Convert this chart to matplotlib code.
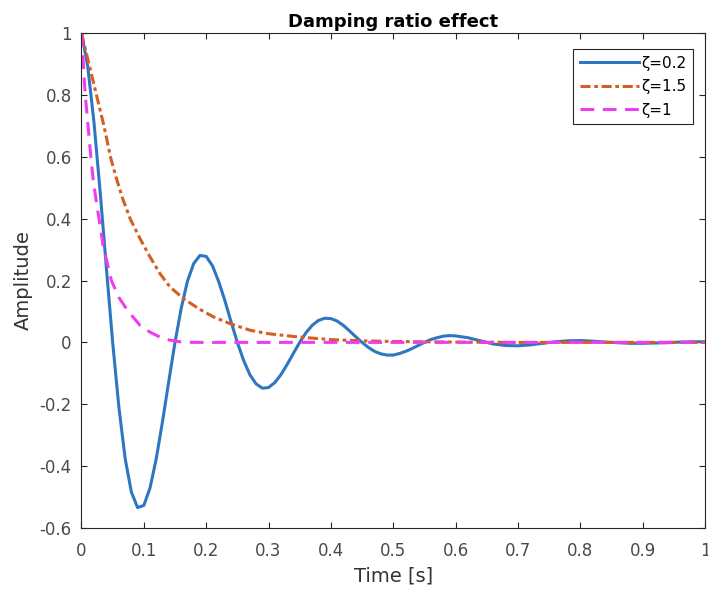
import numpy as np
import matplotlib
matplotlib.use('Agg')
import matplotlib.pyplot as plt

# values
t_blue = [0.00, 0.01, 0.02, 0.03, 0.04, 0.05, 0.06, 0.07, 0.08, 0.09,
          0.10, 0.11, 0.12, 0.13, 0.14, 0.15, 0.16, 0.17, 0.18, 0.19,
          0.20, 0.21, 0.22, 0.23, 0.24, 0.25, 0.26, 0.27, 0.28, 0.29,
          0.30, 0.31, 0.32, 0.33, 0.34, 0.35, 0.36, 0.37, 0.38, 0.39,
          0.40, 0.41, 0.42, 0.43, 0.44, 0.45, 0.46, 0.47, 0.48, 0.49,
          0.50, 0.51, 0.52, 0.53, 0.54, 0.55, 0.56, 0.57, 0.58, 0.59,
          0.60, 0.62, 0.64, 0.66, 0.68, 0.70, 0.72, 0.74, 0.76, 0.78,
          0.80, 0.82, 0.84, 0.86, 0.88, 0.90, 0.92, 0.94, 0.96, 0.98, 1.00]
y_blue = [1.000, 0.892, 0.712, 0.485, 0.239, 0.000, -0.210, -0.375, -0.484, -0.534,
          -0.527, -0.470, -0.375, -0.255, -0.126, 0.000, 0.111, 0.198, 0.255, 0.281,
          0.278, 0.248, 0.197, 0.135, 0.066, 0.000, -0.058, -0.104, -0.134, -0.148,
          -0.146, -0.130, -0.104, -0.071, -0.035, 0.000, 0.031, 0.055, 0.071, 0.078,
          0.077, 0.069, 0.055, 0.037, 0.018, 0.000, -0.016, -0.029, -0.037, -0.041,
          -0.041, -0.036, -0.029, -0.020, -0.010, 0.000, 0.009, 0.015, 0.020, 0.022,
          0.021, 0.015, 0.005, -0.005, -0.010, -0.011, -0.008, -0.003, 0.002, 0.005,
          0.006, 0.004, 0.001, -0.001, -0.003, -0.003, -0.002, -0.001, 0.001, 0.002, 0.002]

t_orange = [0.000, 0.012, 0.024, 0.036, 0.047, 0.056, 0.066, 0.078, 0.094, 0.110,
            0.126, 0.142, 0.164, 0.188, 0.212, 0.239, 0.271, 0.300, 0.350, 0.400,
            0.450, 0.500, 0.600, 0.700, 0.800, 0.900, 1.000]
y_orange = [1.000, 0.900, 0.800, 0.700, 0.595, 0.530, 0.465, 0.400, 0.335, 0.276,
            0.222, 0.179, 0.141, 0.109, 0.082, 0.060, 0.039, 0.028, 0.017, 0.009,
            0.005, 0.003, 0.001, 0.000, 0.000, 0.000, 0.000]

t_mag = [0.000, 0.006, 0.015, 0.019, 0.028, 0.035, 0.048, 0.060, 0.075, 0.094,
         0.110, 0.126, 0.140, 0.158, 0.180, 0.200, 0.300, 0.400, 0.500, 0.600,
         0.700, 0.800, 0.900, 1.000]
y_mag = [1.000, 0.800, 0.600, 0.520, 0.400, 0.310, 0.200, 0.145, 0.100, 0.055,
         0.033, 0.017, 0.008, 0.002, 0.000, 0.000, 0.000, 0.000, 0.000, 0.000,
         0.000, 0.000, 0.000, 0.000]

labels = ['\u03b6=0.2', '\u03b6=1.5', '\u03b6=1']
x_ticks = [0, 0.1, 0.2, 0.3, 0.4, 0.5, 0.6, 0.7, 0.8, 0.9, 1]
x_ticklabels = ['0', '0.1', '0.2', '0.3', '0.4', '0.5', '0.6', '0.7', '0.8', '0.9', '1']
y_ticks = [-0.6, -0.4, -0.2, 0, 0.2, 0.4, 0.6, 0.8, 1]
y_ticklabels = ['-0.6', '-0.4', '-0.2', '0', '0.2', '0.4', '0.6', '0.8', '1']

plt.rcParams['font.family'] = ['DejaVu Sans']
plt.rcParams['axes.unicode_minus'] = False

fig = plt.figure(figsize=(7.08, 5.92), dpi=100)
ax = fig.add_axes([0.1151, 0.1081, 0.8806, 0.8361])

ax.plot(t_blue, y_blue, color='#2E77C0', lw=2.2, label=labels[0])
ax.plot(t_orange, y_orange, color='#D45E24', lw=2.2, dashes=(3.3, 1.2, 1.2, 1.2), label=labels[1])
ax.plot(t_mag, y_mag, color='#F03CF0', lw=2.2, dashes=(4.5, 2.8), label=labels[2])

ax.set_xlim(0, 1)
ax.set_ylim(-0.6, 1)
ax.set_xticks(x_ticks)
ax.set_xticklabels(x_ticklabels)
ax.set_yticks(y_ticks)
ax.set_yticklabels(y_ticklabels)
ax.tick_params(direction='in', length=4, width=0.8, color='#262626',
               labelcolor='#4A4A4A', labelsize=12, top=True, right=True)
ax.tick_params(axis='x', pad=10)
ax.tick_params(axis='y', pad=7)
for s in ax.spines.values():
	s.set_color('#262626')
	s.set_linewidth(0.8)

ax.set_title('Damping ratio effect', fontsize=13, fontweight='bold', pad=4)
ax.set_xlabel('Time [s]', fontsize=14, color='#333333', labelpad=5)
ax.set_ylabel('Amplitude', fontsize=14, color='#333333', labelpad=5)

leg = ax.legend(loc='upper right', bbox_to_anchor=(0.981, 0.968), borderaxespad=0,
                fontsize=11, handlelength=3.85, labelspacing=0.55, handletextpad=0.15,
                borderpad=0.45, fancybox=False, framealpha=1, edgecolor='#262626')
leg.get_frame().set_linewidth(0.8)

fig.savefig('out.png', dpi=100)
